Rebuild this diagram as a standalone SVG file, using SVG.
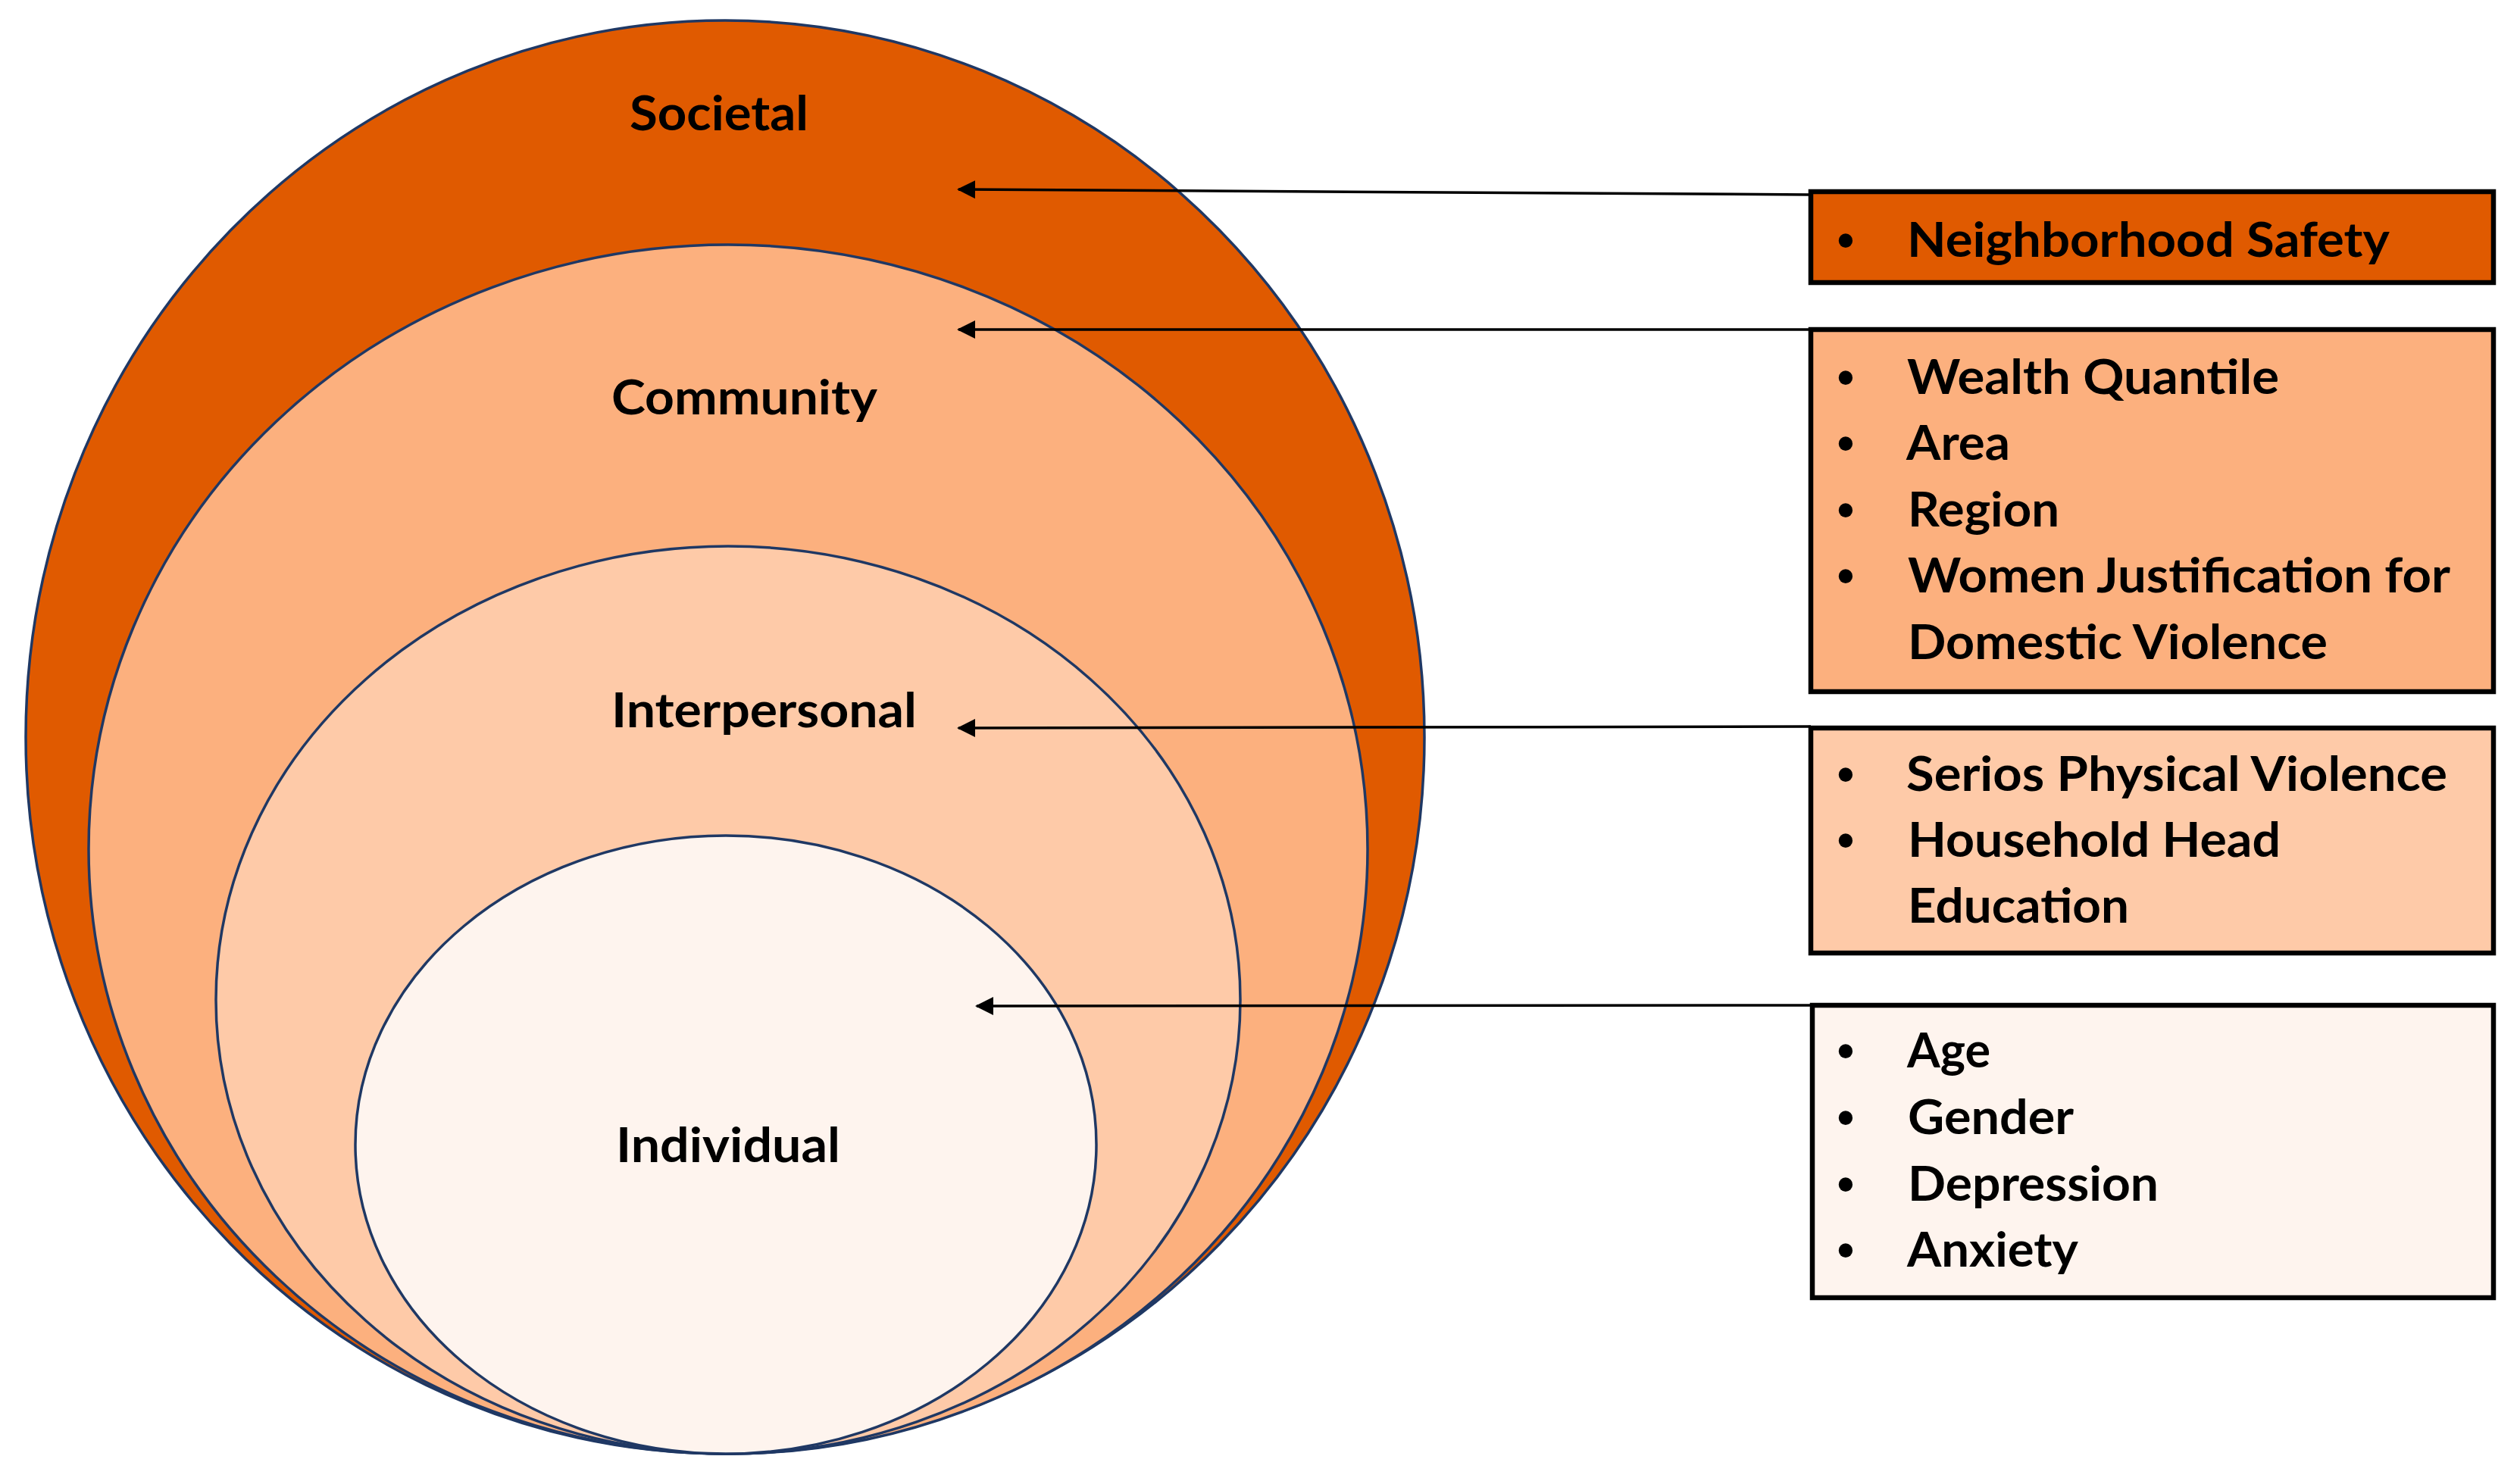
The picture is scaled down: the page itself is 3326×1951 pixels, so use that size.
<svg xmlns="http://www.w3.org/2000/svg" width="3326" height="1951" viewBox="0 0 3326 1951">
<style>
.ring{stroke:#1F3864;stroke-width:3.5}
.lbl{font-family:Lato,"Open Sans","Liberation Sans",sans-serif;font-weight:700;font-size:64px;fill:#000}
.box{stroke:#000;stroke-width:6.5}
.conn{stroke:#000;stroke-width:3.5;fill:none}
.bul{font-family:"Liberation Sans",Arial,sans-serif;font-weight:700;font-size:64px;fill:#000;text-anchor:middle}
</style>
<defs>
<marker id="ah" viewBox="0 0 24 24" refX="22" refY="12" markerWidth="24" markerHeight="24" markerUnits="userSpaceOnUse" orient="auto">
<path d="M0,0 L24,12 L0,24 z" fill="#000"/>
</marker>
</defs>
<rect width="3326" height="1951" fill="#fff"/>
<g id="societal">
<ellipse class="ring" cx="957" cy="973" rx="923" ry="946" fill="#E05A00"/>
<text class="lbl" x="831" y="172" textLength="236" lengthAdjust="spacingAndGlyphs">Societal</text>
</g>
<g id="community">
<ellipse class="ring" cx="961" cy="1121" rx="844" ry="798" fill="#FCB07E"/>
<text class="lbl" x="807" y="547" textLength="351" lengthAdjust="spacingAndGlyphs">Community</text>
</g>
<g id="interpersonal">
<ellipse class="ring" cx="961" cy="1320" rx="676" ry="599" fill="#FECAA8"/>
<text class="lbl" x="807" y="960" textLength="403" lengthAdjust="spacingAndGlyphs">Interpersonal</text>
</g>
<g id="individual">
<ellipse class="ring" cx="958" cy="1511" rx="489" ry="408" fill="#FEF4EE"/>
<text class="lbl" x="813" y="1534" textLength="296" lengthAdjust="spacingAndGlyphs">Individual</text>
</g>
<g id="connectors">
<line class="conn" x1="2390" y1="257" x2="1265" y2="250" marker-end="url(#ah)"/>
<line class="conn" x1="2390" y1="435" x2="1265" y2="435" marker-end="url(#ah)"/>
<line class="conn" x1="2390" y1="959" x2="1265" y2="961" marker-end="url(#ah)"/>
<line class="conn" x1="2390" y1="1327" x2="1289" y2="1328" marker-end="url(#ah)"/>
</g>
<g id="box-societal">
<rect class="box" x="2390" y="253" width="901" height="120" fill="#E05A00"/>
<text class="bul" x="2436" y="339">•</text>
<text class="lbl" x="2517" y="339" textLength="637" lengthAdjust="spacingAndGlyphs">Neighborhood Safety</text>
</g>
<g id="box-community">
<rect class="box" x="2390" y="435" width="901" height="478" fill="#FCB07E"/>
<text class="bul" x="2436" y="520">•</text>
<text class="lbl" x="2517" y="520" textLength="491" lengthAdjust="spacingAndGlyphs">Wealth Quantile</text>
<text class="bul" x="2436" y="607">•</text>
<text class="lbl" x="2516" y="607" textLength="137" lengthAdjust="spacingAndGlyphs">Area</text>
<text class="bul" x="2436" y="695">•</text>
<text class="lbl" x="2518" y="695" textLength="200" lengthAdjust="spacingAndGlyphs">Region</text>
<text class="bul" x="2436" y="782">•</text>
<text class="lbl" x="2518" y="782" textLength="716" lengthAdjust="spacingAndGlyphs">Women Justification for</text>
<text class="lbl" x="2518" y="870" textLength="554" lengthAdjust="spacingAndGlyphs">Domestic Violence</text>
</g>
<g id="box-interpersonal">
<rect class="box" x="2390" y="961" width="901" height="297" fill="#FECAA8"/>
<text class="bul" x="2436" y="1044">•</text>
<text class="lbl" x="2516" y="1044" textLength="714" lengthAdjust="spacingAndGlyphs">Serios Physical Violence</text>
<text class="bul" x="2436" y="1131">•</text>
<text class="lbl" x="2518" y="1131" textLength="492" lengthAdjust="spacingAndGlyphs">Household Head</text>
<text class="lbl" x="2518" y="1218" textLength="292" lengthAdjust="spacingAndGlyphs">Education</text>
</g>
<g id="box-individual">
<rect class="box" x="2392" y="1327" width="899" height="386" fill="#FEF4EE"/>
<text class="bul" x="2436" y="1409">•</text>
<text class="lbl" x="2517" y="1409" textLength="110" lengthAdjust="spacingAndGlyphs">Age</text>
<text class="bul" x="2436" y="1497">•</text>
<text class="lbl" x="2518" y="1497" textLength="219" lengthAdjust="spacingAndGlyphs">Gender</text>
<text class="bul" x="2436" y="1585">•</text>
<text class="lbl" x="2518" y="1585" textLength="331" lengthAdjust="spacingAndGlyphs">Depression</text>
<text class="bul" x="2436" y="1672">•</text>
<text class="lbl" x="2517" y="1672" textLength="226" lengthAdjust="spacingAndGlyphs">Anxiety</text>
</g>
</svg>
